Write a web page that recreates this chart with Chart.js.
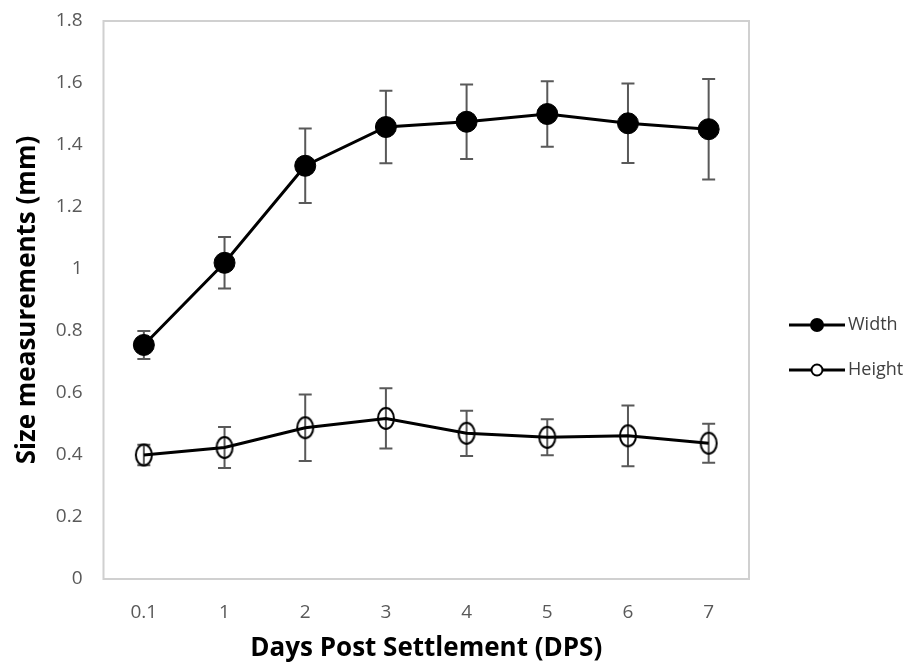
<!DOCTYPE html>
<html>
<head>
<meta charset="utf-8">
<script src="https://cdn.jsdelivr.net/npm/chart.js@4.4.1/dist/chart.umd.min.js"></script>
<style>
    html, body { margin: 0; padding: 0; background: #fff; }
    #wrap { width: 916px; height: 669px; }
</style>
</head>
<body>
<div id="wrap"><canvas id="sizeChart"></canvas></div>
<script>
const days = ['0.1', '1', '2', '3', '4', '5', '6', '7'];

const widthMean = [0.755, 1.02, 1.333, 1.458, 1.475, 1.5, 1.47, 1.451];
const widthErr = [0.045, 0.083, 0.12, 0.117, 0.12, 0.106, 0.128, 0.162];

const heightMean = [0.40, 0.424, 0.488, 0.518, 0.47, 0.457, 0.462, 0.438];
const heightErr = [0.033, 0.066, 0.107, 0.097, 0.073, 0.058, 0.098, 0.063];

const yTicks = [0, 0.2, 0.4, 0.6, 0.8, 1, 1.2, 1.4, 1.6, 1.8];

const fontFamily = '"Open Sans", "Noto Sans", sans-serif';

// open oval marker for the Height series
function openOval(rx, ry, lw) {
    const c = document.createElement('canvas');
    c.width = Math.ceil(rx * 2 + lw * 2);
    c.height = Math.ceil(ry * 2 + lw * 2);
    const g = c.getContext('2d');
    g.strokeStyle = '#000';
    g.lineWidth = lw;
    g.beginPath();
    g.ellipse(c.width / 2, c.height / 2, rx, ry, 0, 0, Math.PI * 2);
    g.stroke();
    return c;
}

// vertical error bars with caps, drawn under the markers
const errorBars = {
    id: 'errorBars',
    beforeDatasetsDraw(chart) {
        const ctx = chart.ctx;
        const y = chart.scales.y;
        ctx.save();
        ctx.strokeStyle = '#595959';
        ctx.lineWidth = 2;
        chart.data.datasets.forEach((ds, i) => {
            const meta = chart.getDatasetMeta(i);
            meta.data.forEach((pt, j) => {
                const top = y.getPixelForValue(ds.data[j] + ds.errors[j]);
                const bot = y.getPixelForValue(ds.data[j] - ds.errors[j]);
                ctx.beginPath();
                ctx.moveTo(pt.x, top);
                ctx.lineTo(pt.x, bot);
                ctx.moveTo(pt.x - 6.5, top);
                ctx.lineTo(pt.x + 6.5, top);
                ctx.moveTo(pt.x - 6.5, bot);
                ctx.lineTo(pt.x + 6.5, bot);
                ctx.stroke();
            });
        });
        ctx.restore();
    }
};

// light grey box around the plot area
const plotBox = {
    id: 'plotBox',
    beforeDraw(chart) {
        const a = chart.chartArea;
        const ctx = chart.ctx;
        ctx.save();
        ctx.strokeStyle = '#d0d0d0';
        ctx.lineWidth = 2;
        ctx.strokeRect(a.left, a.top, a.right - a.left, a.bottom - a.top);
        ctx.restore();
    }
};

// legend to the right: short line with the marker in the middle
const sideLegend = {
    id: 'sideLegend',
    afterDraw(chart) {
        const ctx = chart.ctx;
        const x0 = chart.chartArea.right + 40;
        const rows = [325, 370];
        ctx.save();
        chart.data.datasets.forEach((ds, i) => {
            const yy = rows[i];
            ctx.strokeStyle = '#000';
            ctx.lineWidth = 3;
            ctx.beginPath();
            ctx.moveTo(x0, yy);
            ctx.lineTo(x0 + 56, yy);
            ctx.stroke();
            ctx.beginPath();
            ctx.arc(x0 + 28, yy, ds.legendRadius, 0, Math.PI * 2);
            if (ds.legendFilled) {
                ctx.fillStyle = '#000';
                ctx.fill();
            } else {
                ctx.fillStyle = '#fff';
                ctx.fill();
                ctx.lineWidth = 2;
                ctx.stroke();
            }
            ctx.fillStyle = '#404040';
            ctx.font = '18px ' + fontFamily;
            ctx.textBaseline = 'middle';
            ctx.fillText(ds.label, x0 + 59, yy);
        });
        ctx.restore();
    }
};

new Chart(document.getElementById('sizeChart'), {
    type: 'line',
    data: {
        labels: days,
        datasets: [{
            label: 'Width',
            data: widthMean,
            errors: widthErr,
            borderColor: '#000',
            borderWidth: 3,
            backgroundColor: '#000',
            pointBackgroundColor: '#000',
            pointBorderColor: '#000',
            pointRadius: 10.5,
            pointBorderWidth: 1,
            legendRadius: 7,
            legendFilled: true
        }, {
            label: 'Height',
            data: heightMean,
            errors: heightErr,
            borderColor: '#000',
            borderWidth: 3,
            backgroundColor: 'transparent',
            pointStyle: openOval(8, 10.5, 2),
            pointRadius: 10,
            legendRadius: 5.5,
            legendFilled: false
        }]
    },
    options: {
        responsive: true,
        maintainAspectRatio: false,
        animation: false,
        layout: {
            autoPadding: false,
            padding: { top: 21, right: 167, bottom: 1, left: 8 }
        },
        plugins: {
            legend: { display: false },
            tooltip: { enabled: false }
        },
        scales: {
            x: {
                offset: true,
                grid: { display: false, drawTicks: false },
                border: { display: false },
                afterFit(axis) {
                    axis.height = 89;
                },
                ticks: {
                    color: '#595959',
                    padding: 22,
                    font: { family: fontFamily, size: 19 }
                },
                title: {
                    display: true,
                    text: 'Days Post Settlement (DPS)',
                    color: '#000',
                    padding: { top: 10, bottom: 4 },
                    font: { family: fontFamily, size: 26, weight: 'bold' }
                }
            },
            y: {
                min: 0,
                max: 1.8,
                grid: { display: false, drawTicks: false },
                border: { display: false },
                afterBuildTicks(axis) {
                    axis.ticks = yTicks.map(v => ({ value: v }));
                },
                afterFit(axis) {
                    axis.width = 95.5;
                    axis.paddingTop = 0;
                    axis.paddingBottom = 0;
                },
                ticks: {
                    color: '#595959',
                    padding: 21,
                    font: { family: fontFamily, size: 19 },
                    callback: v => String(v)
                },
                title: {
                    display: true,
                    text: 'Size measurements (mm)',
                    color: '#000',
                    padding: { top: 4, bottom: 12 },
                    font: { family: fontFamily, size: 26, weight: 'bold' }
                }
            }
        }
    },
    plugins: [errorBars, plotBox, sideLegend]
});
</script>
</body>
</html>
